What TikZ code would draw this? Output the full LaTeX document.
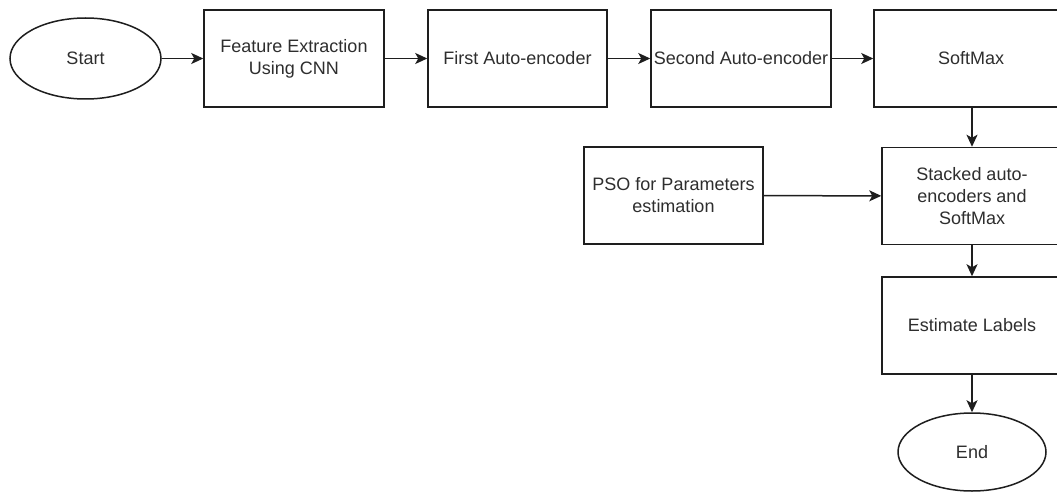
\documentclass[tikz,border=0pt]{standalone}
\usepackage{fontspec}
\setmainfont{Liberation Sans}
\usetikzlibrary{arrows.meta,shapes.geometric}
\definecolor{ink}{HTML}{1E1E1E}
\definecolor{txt}{HTML}{2E2E2E}
\begin{document}
\begin{tikzpicture}[x=1pt,y=-1pt,
  font=\fontsize{18}{22}\selectfont,
  every node/.style={text=txt,align=center,inner sep=0pt},
  procbox/.style={draw=ink,line width=1.5pt,rectangle,minimum width=180pt,minimum height=97pt},
  termnode/.style={draw=ink,line width=1.5pt,ellipse},
  flow/.style={draw=ink,line width=1.5pt,-{Stealth[length=12pt,width=11pt,inset=3pt]}}]
\useasboundingbox (0,0) rectangle (1057,492);
\clip (0,0) rectangle (1057,492);
\fill[white] (0,0) rectangle (1057,492);
% top row
\node[termnode,minimum width=151pt,minimum height=81pt] (start) at (85.5,58.5) {Start};
\node[procbox] (feat) at (294,58.5) {Feature Extraction\\Using CNN};
\node[procbox,minimum width=179pt] (ae1) at (517.5,58.5) {First Auto-encoder};
\node[procbox] (ae2) at (741,58.5) {Second Auto-encoder};
\node[procbox,minimum width=194pt] (soft) at (971,58.5) {SoftMax};
% right column
\node[procbox] (stack) at (972,196) {Stacked auto-\\encoders and\\SoftMax};
\node[procbox,minimum width=179pt] (pso) at (673.5,195.5) {PSO for Parameters\\estimation};
\node[procbox,minimum width=180pt] (est) at (972,325.5) {Estimate Labels};
\node[termnode,minimum width=148pt,minimum height=78pt] (end) at (972,452) {End};
% connectors
\draw[flow] (start) -- (feat);
\draw[flow] (feat) -- (ae1);
\draw[flow] (ae1) -- (ae2);
\draw[flow] (ae2) -- (soft);
\draw[flow] (soft.south -| stack.north) -- (stack.north);
\draw[flow] (pso) -- (stack);
\draw[flow] (stack) -- (est);
\draw[flow] (est) -- (end);
\end{tikzpicture}
\end{document}
